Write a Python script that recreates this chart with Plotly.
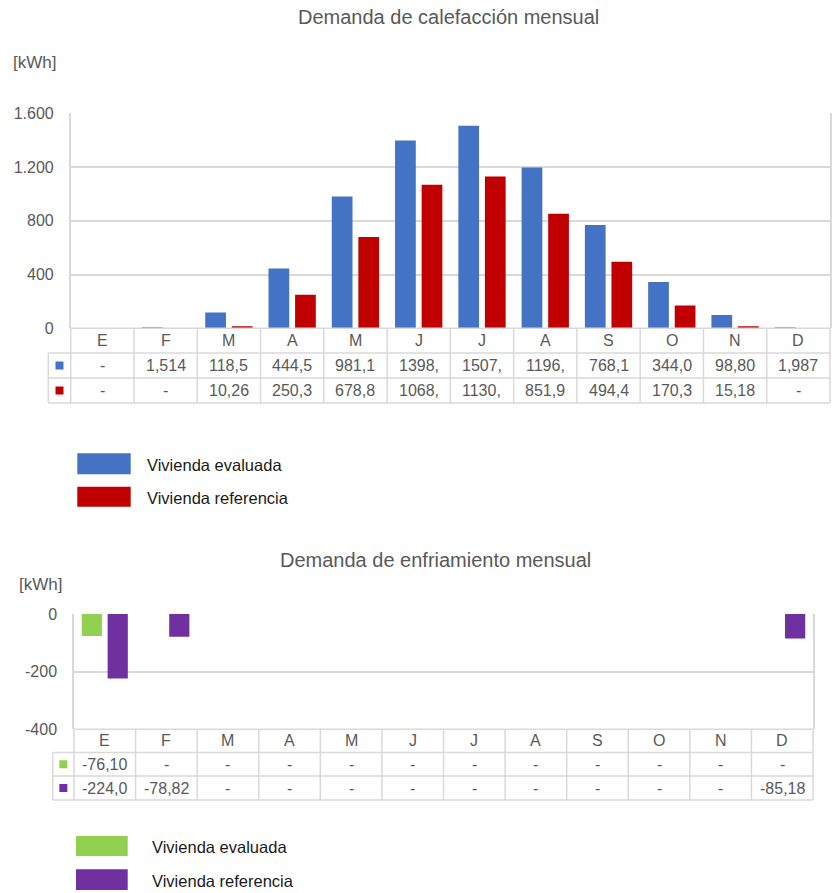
import plotly.graph_objects as go

# ---- data -------------------------------------------------------------
meses = ["E", "F", "M", "A", "M", "J", "J", "A", "S", "O", "N", "D"]

calef_evaluada = [0, 1.514, 118.5, 444.5, 981.1, 1398, 1507, 1196, 768.1, 344.0, 98.80, 1.987]
calef_referencia = [0, 0, 10.26, 250.3, 678.8, 1068, 1130, 851.9, 494.4, 170.3, 15.18, 0]

enfr_evaluada = [-76.10, 0, 0, 0, 0, 0, 0, 0, 0, 0, 0, 0]
enfr_referencia = [-224.0, -78.82, 0, 0, 0, 0, 0, 0, 0, 0, 0, -85.18]

calef_ticks = [0, 400, 800, 1200, 1600]
calef_ticktext = ["0", "400", "800", "1.200", "1.600"]
enfr_ticks = [-400, -200, 0]
enfr_ticktext = ["-400", "-200", "0"]

series_names = ["Vivienda evaluada", "Vivienda referencia"]

# ---- styling ------------------------------------------------------------
W, H = 836, 893
FONT = "Liberation Sans, Arial, sans-serif"
GREY = "#595959"
LINE = "#D9D9D9"
BLUE, RED = "#4472C4", "#C00000"
GREEN, PURPLE = "#92D050", "#7030A0"


def fx(p):
    return p / W


def fy(p):
    return 1 - p / H


def fmt(v, width=None):
    """Spanish style number with four significant digits; '-' for zero."""
    if v == 0:
        return "-"
    a = abs(v)
    d = len(str(int(a))) if a >= 1 else 1
    s = f"{v:.{max(4 - d, 1)}f}".replace(".", ",")
    if width is not None:
        s = s[:width]
    return s


idx = list(range(len(meses)))

fig = go.Figure()
fig.add_bar(x=idx, y=calef_evaluada, marker_color=BLUE, marker_line_width=0,
            name=series_names[0], xaxis="x", yaxis="y", showlegend=False)
fig.add_bar(x=idx, y=calef_referencia, marker_color=RED, marker_line_width=0,
            name=series_names[1], xaxis="x", yaxis="y", showlegend=False)
fig.add_bar(x=idx, y=enfr_evaluada, marker_color=GREEN, marker_line_width=0,
            name=series_names[0], xaxis="x2", yaxis="y2", showlegend=False)
fig.add_bar(x=idx, y=enfr_referencia, marker_color=PURPLE, marker_line_width=0,
            name=series_names[1], xaxis="x2", yaxis="y2", showlegend=False)

# pixel geometry of the two panels
top = dict(left=70.7, right=830, ytop=113.3, ybot=328.3,
           rows=[328.3, 353, 378, 403], keyleft=48.3, xref="x")
bot = dict(left=74, right=813, ytop=614, ybot=729.3,
           rows=[729.3, 752.5, 776, 800], keyleft=52.7, xref="x2")

shapes, annotations = [], []


def draw_table(g, rows_vals, colors, clip):
    n = len(meses)
    cw = (g["right"] - g["left"]) / n
    r = g["rows"]
    # horizontal rules
    shapes.append(dict(type="line", xref="paper", yref="paper",
                       x0=fx(g["left"]), x1=fx(g["right"]), y0=fy(r[0]), y1=fy(r[0]),
                       line=dict(color=LINE, width=1.5)))
    for y in r[1:]:
        shapes.append(dict(type="line", xref="paper", yref="paper",
                           x0=fx(g["keyleft"]), x1=fx(g["right"]), y0=fy(y), y1=fy(y),
                           line=dict(color=LINE, width=1.5)))
    # vertical rules
    for i in range(n + 1):
        x = g["left"] + i * cw
        shapes.append(dict(type="line", xref="paper", yref="paper",
                           x0=fx(x), x1=fx(x), y0=fy(r[0]), y1=fy(r[3]),
                           line=dict(color=LINE, width=1.5)))
    shapes.append(dict(type="line", xref="paper", yref="paper",
                       x0=fx(g["keyleft"]), x1=fx(g["keyleft"]), y0=fy(r[1]), y1=fy(r[3]),
                       line=dict(color=LINE, width=1.5)))
    # month header
    for i, m in enumerate(meses):
        annotations.append(dict(x=i, xref=g["xref"], y=fy((r[0] + r[1]) / 2), yref="paper",
                                text=m, showarrow=False, xanchor="center", yanchor="middle",
                                font=dict(family=FONT, size=16, color=GREY)))
    # series rows
    for k, (vals, col) in enumerate(zip(rows_vals, colors)):
        yc = (r[k + 1] + r[k + 2]) / 2
        kc = (g["keyleft"] + g["left"]) / 2
        shapes.append(dict(type="rect", xref="paper", yref="paper",
                           x0=fx(kc - 4), x1=fx(kc + 4), y0=fy(yc - 4), y1=fy(yc + 4),
                           fillcolor=col, line=dict(width=0)))
        for i, v in enumerate(vals):
            annotations.append(dict(x=i, xref=g["xref"], y=fy(yc), yref="paper",
                                    text=fmt(v, clip), showarrow=False,
                                    xanchor="center", yanchor="middle",
                                    font=dict(family=FONT, size=16, color=GREY)))


draw_table(top, [calef_evaluada, calef_referencia], [BLUE, RED], 5)
draw_table(bot, [enfr_evaluada, enfr_referencia], [GREEN, PURPLE], None)


def legend(x0, x1, entries, text_x):
    for (y0, y1, col, label) in entries:
        shapes.append(dict(type="rect", xref="paper", yref="paper",
                           x0=fx(x0), x1=fx(x1), y0=fy(y1), y1=fy(y0),
                           fillcolor=col, line=dict(width=0)))
        annotations.append(dict(x=fx(text_x), xref="paper", y=fy((y0 + y1) / 2 + 1), yref="paper",
                                text=label, showarrow=False, xanchor="left", yanchor="middle",
                                font=dict(family=FONT, size=16.5, color="#1a1a1a")))


legend(77.3, 130.7, [(453.3, 474.3, BLUE, series_names[0]),
                     (486.7, 506.7, RED, series_names[1])], 145)
legend(76, 127.7, [(836, 856, GREEN, series_names[0]),
                   (869.3, 890, PURPLE, series_names[1])], 150)

# titles and unit labels
for txt, x, y, size in [("Demanda de calefacción mensual", 448, 17, 20),
                        ("Demanda de enfriamiento mensual", 435, 560, 20)]:
    annotations.append(dict(x=fx(x), y=fy(y), xref="paper", yref="paper", text=txt,
                            showarrow=False, xanchor="center", yanchor="middle",
                            font=dict(family=FONT, size=size, color=GREY)))
for x, y in [(11, 62), (17, 584)]:
    annotations.append(dict(x=fx(x), y=fy(y), xref="paper", yref="paper", text="[kWh]",
                            showarrow=False, xanchor="left", yanchor="middle",
                            font=dict(family=FONT, size=17, color=GREY)))

xa = dict(range=[-0.5, 11.5], showticklabels=False, showgrid=False, zeroline=False,
          showline=False, ticks="", fixedrange=True, automargin=False)
ya = dict(showgrid=True, gridcolor=LINE, gridwidth=1.5, showline=True, linecolor=LINE,
          linewidth=1.5, mirror=True, zeroline=False, ticks="", ticklabelstandoff=12,
          tickfont=dict(family=FONT, size=16, color=GREY), fixedrange=True, automargin=False)

fig.update_layout(
    width=W, height=H,
    margin=dict(l=0, r=0, t=0, b=0, pad=0, autoexpand=False),
    paper_bgcolor="white", plot_bgcolor="white",
    barmode="group", bargap=0.16, bargroupgap=0.22,
    xaxis=dict(xa, domain=[fx(top["left"]), fx(top["right"])], anchor="y"),
    yaxis=dict(ya, domain=[fy(top["ybot"]), fy(top["ytop"])], anchor="x",
               range=[0, 1600], tickvals=calef_ticks, ticktext=calef_ticktext),
    xaxis2=dict(xa, domain=[fx(bot["left"]), fx(bot["right"])], anchor="y2"),
    yaxis2=dict(ya, domain=[fy(bot["ybot"]), fy(bot["ytop"])], anchor="x2",
                range=[-400, 0], tickvals=enfr_ticks, ticktext=enfr_ticktext),
    shapes=shapes,
    annotations=annotations,
    showlegend=False,
)

fig.write_html("out.html")
